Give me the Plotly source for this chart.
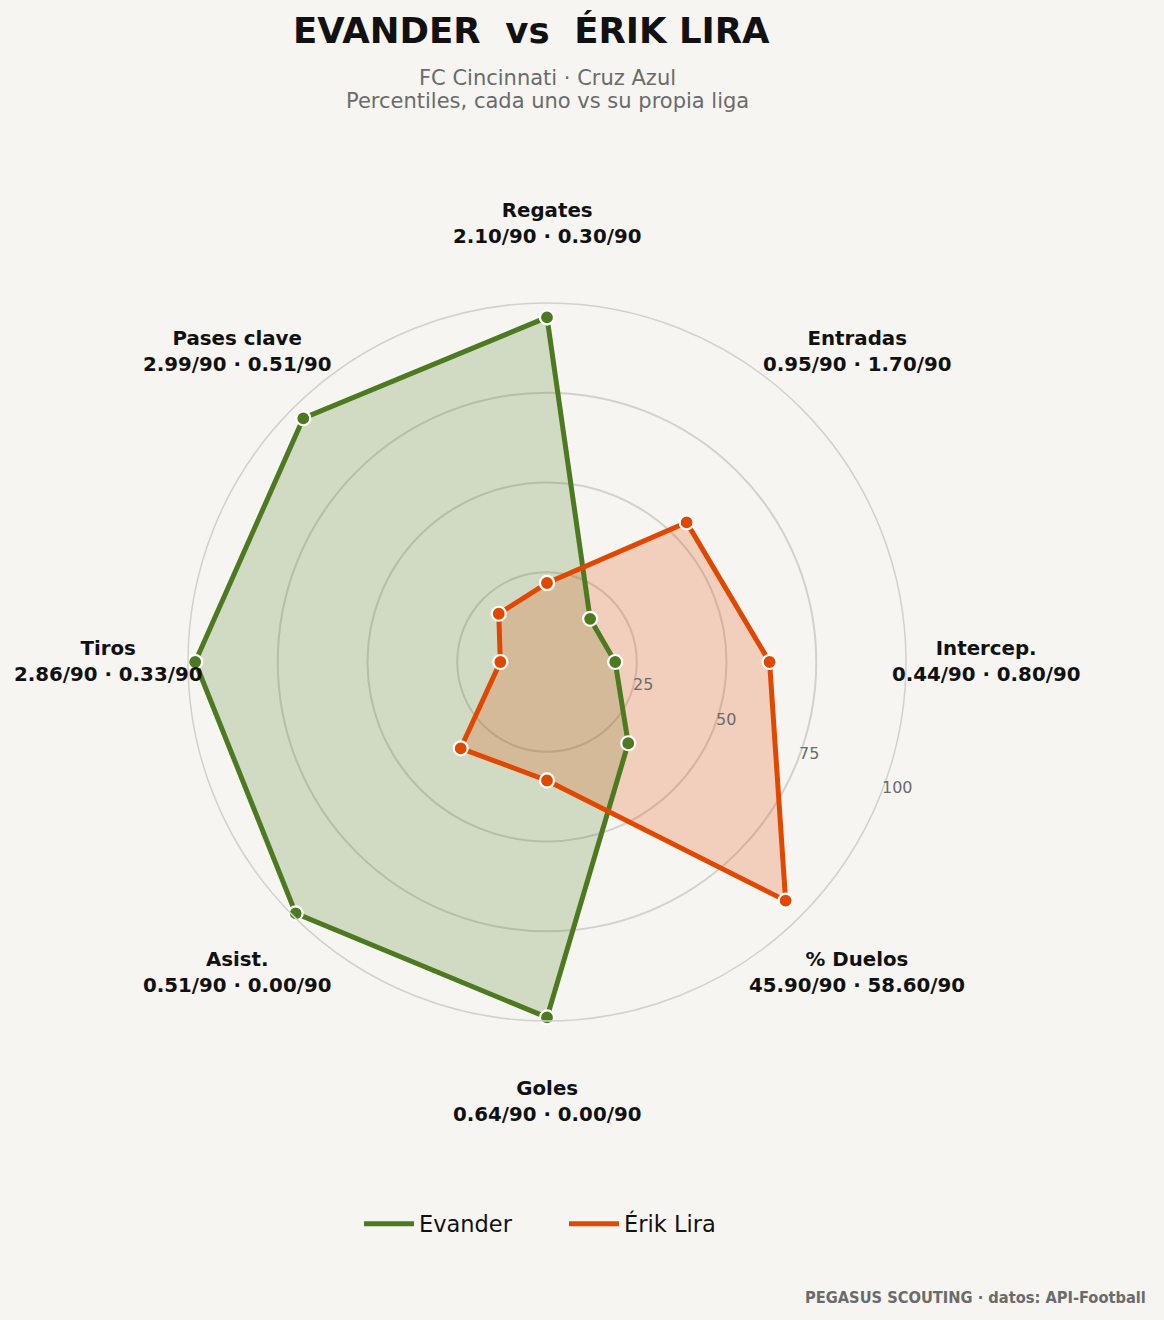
import math
import plotly.graph_objects as go

# data
categories = ["Regates", "Entradas", "Intercep.", "% Duelos", "Goles", "Asist.", "Tiros", "Pases clave"]
evander_raw = ["2.10/90", "0.95/90", "0.44/90", "45.90/90", "0.64/90", "0.51/90", "2.86/90", "2.99/90"]
lira_raw = ["0.30/90", "1.70/90", "0.80/90", "58.60/90", "0.00/90", "0.00/90", "0.33/90", "0.51/90"]
evander_pct = [96, 17, 19, 32, 99, 99, 98, 96]
lira_pct = [22, 55, 62, 94, 33, 34, 13, 19]
radial_ticks = [25, 50, 75, 100]

GREEN = "#4d7a21"
ORANGE = "#e04800"
BG = "#f6f5f1"
FONT = "DejaVu Sans"

W, H = 1164, 1320
cx, cy, R = 547, 658, 359   # polar centre (px from left / bottom) and radius


def closed(vals):
    return vals + vals[:1]


fig = go.Figure()

# fills first so both outlines sit on top
for name, vals, col in [("Evander", evander_pct, "rgba(77,122,33,0.22)"),
                        ("Érik Lira", lira_pct, "rgba(224,72,0,0.22)")]:
    fig.add_trace(go.Scatterpolar(
        r=closed(vals), theta=closed(categories), mode="none",
        fill="toself", fillcolor=col, showlegend=False, hoverinfo="skip"))

for name, vals, col in [("Evander", evander_pct, GREEN), ("Érik Lira", lira_pct, ORANGE)]:
    fig.add_trace(go.Scatterpolar(
        r=closed(vals), theta=closed(categories), mode="lines+markers",
        line=dict(color=col, width=5),
        marker=dict(size=14, color=col, line=dict(color="white", width=2.2)),
        name=name, showlegend=False))
    # legend entry: line only
    fig.add_trace(go.Scatterpolar(
        r=[None], theta=[categories[0]], mode="lines",
        line=dict(color=col, width=5), name=name, showlegend=True))

# category labels outside the circle
annotations = []
for i, cat in enumerate(categories):
    ang = math.radians(90 - 45 * i)
    x = (cx + 439 * math.cos(ang)) / W
    y = (cy + 439 * math.sin(ang)) / H
    annotations.append(dict(
        x=x, y=y, xref="paper", yref="paper", xanchor="center", yanchor="middle",
        text=f"<b>{cat}<br>{evander_raw[i]} · {lira_raw[i]}</b>",
        showarrow=False, font=dict(family=FONT, size=19.8, color="#111111")))

# radial tick labels, horizontal, along the -22.5 deg direction
rl_ang = math.radians(-22.5)
for t in radial_ticks:
    rp = t / 100 * R
    annotations.append(dict(
        x=(cx + rp * math.cos(rl_ang)) / W, y=(cy + rp * math.sin(rl_ang)) / H,
        xref="paper", yref="paper", xanchor="left", yanchor="bottom",
        xshift=1, yshift=0, text=str(t), showarrow=False,
        font=dict(family=FONT, size=16, color="#6b6b6b")))

annotations.append(dict(
    x=531 / W, y=1 - 31 / H, xref="paper", yref="paper", xanchor="center", yanchor="middle",
    text="<b>EVANDER  vs  ÉRIK LIRA</b>", showarrow=False,
    font=dict(family=FONT, size=35.5, color="#111111")))
for txt, ypx in [("FC Cincinnati · Cruz Azul", 78), ("Percentiles, cada uno vs su propia liga", 101)]:
    annotations.append(dict(
        x=547 / W, y=1 - ypx / H, xref="paper", yref="paper", xanchor="center", yanchor="middle",
        text=txt, showarrow=False, font=dict(family=FONT, size=21, color="#6b6b6b")))
annotations.append(dict(
    x=1148 / W, y=(1320 - 1297) / H, xref="paper", yref="paper", xanchor="right", yanchor="middle",
    text="<b>PEGASUS SCOUTING · datos: API-Football</b>", showarrow=False,
    font=dict(family="DejaVu Sans Condensed", size=16.3, color="#6b6b6b")))

fig.update_layout(
    width=W, height=H,
    paper_bgcolor=BG, plot_bgcolor=BG,
    margin=dict(l=0, r=0, t=0, b=0),
    font=dict(family=FONT),
    polar=dict(
        domain=dict(x=[(cx - R) / W, (cx + R) / W], y=[(cy - R) / H, (cy + R) / H]),
        bgcolor=BG,
        angularaxis=dict(
            direction="clockwise", rotation=90, showgrid=False,
            showticklabels=False, ticks="", showline=True,
            linecolor="#d3d1cc", linewidth=1.5),
        radialaxis=dict(
            range=[0, 100], tickvals=radial_ticks, showticklabels=False,
            angle=-22.5, showline=False, ticks="",
            gridcolor="#d3d1cc", gridwidth=1.5),
    ),
    legend=dict(
        orientation="h", x=564 / W, xanchor="center", y=(1320 - 1224) / H, yanchor="middle",
        font=dict(family=FONT, size=22.5, color="#111111"), bgcolor="rgba(0,0,0,0)",
        itemwidth=50, entrywidth=140),
    annotations=annotations,
)

fig.write_html("out.html", post_script="document.body.style.margin='0';",
               config={"displayModeBar": False})
